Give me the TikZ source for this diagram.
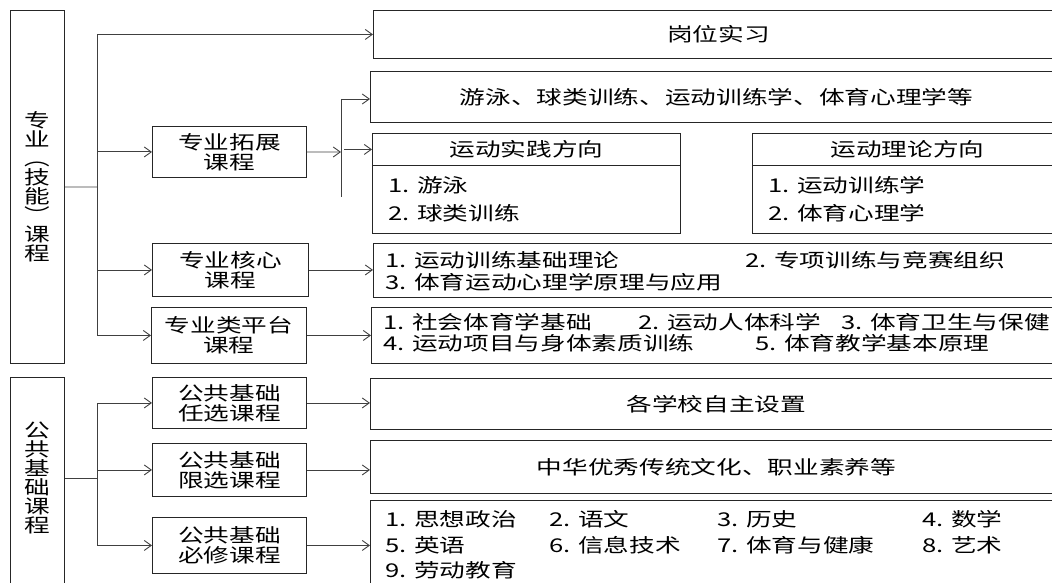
\documentclass[tikz,border=0pt]{standalone}
\usepackage{fontspec}
\setmainfont{Noto Sans CJK SC}[FakeStretch=1.35]
\usetikzlibrary{positioning, arrows.meta}
\tikzset{
  box/.style={draw=black!85, line width=0.9pt, anchor=north west, inner sep=0pt, align=center},
  vlabel/.style={align=center, inner sep=0pt, font=\fontsize{19}{19}\selectfont},
  item/.style={anchor=west, inner sep=0pt},
  link/.style={draw=black!75, line width=0.9pt},
  >={Straight Barb[length=7pt,width=10pt]},
}

\begin{document}
\begin{tikzpicture}[x=1pt, y=-1pt, font=\fontsize{19}{20}\selectfont]
    \useasboundingbox (0,0) rectangle (1052,583);
    \clip (0,0) rectangle (1052,583);
    % side boxes
    \node[box, minimum width=54, minimum height=353] (prof) at (10,10) {};
    \node[vlabel] (proflbl) at (37,187) {专\\业\\︵\\技\\能\\︶\\课\\程};
    \node[box, minimum width=54, minimum height=230] (pub) at (10,377) {};
    \node[vlabel] (publbl) at (37,478) {公\\共\\基\\础\\课\\程};
    % middle column
    \node[box, minimum width=154, minimum height=51] (ext) at (152,126) {专业拓展\\课程};
    \node[box, minimum width=156, minimum height=53] (core) at (152,243) {专业核心\\课程};
    \node[box, minimum width=155, minimum height=56] (plat) at (151,307) {专业类平台\\课程};
    \node[box, minimum width=154, minimum height=51] (pubopt) at (152,377) {公共基础\\任选课程};
    \node[box, minimum width=154, minimum height=53] (publim) at (152,443) {公共基础\\限选课程};
    \node[box, minimum width=154, minimum height=56] (pubreq) at (152,517) {公共基础\\必修课程};
    % right column
    \node[box, minimum width=690, minimum height=48] (job) at (373,10) {岗位实习};
    \node[box, minimum width=692, minimum height=51] (sports) at (370,71) {游泳、球类训练、运动训练学、体育心理学等};
    \node[box, minimum width=308, minimum height=32] (prachd) at (372,133) {运动实践方向};
    \node[box, minimum width=308, minimum height=68] (pracbd) at (372,165) {};
    \node[box, minimum width=310, minimum height=32] (thehd) at (752,133) {运动理论方向};
    \node[box, minimum width=310, minimum height=68] (thebd) at (752,165) {};
    \node[box, minimum width=690, minimum height=54] (corec) at (373,243) {};
    \node[box, minimum width=692, minimum height=56] (platc) at (371,307) {};
    \node[box, minimum width=692, minimum height=51] (optc) at (370,378) {各学校自主设置};
    \node[box, minimum width=692, minimum height=53] (limc) at (370,440) {中华优秀传统文化、职业素养等};
    \node[box, minimum width=692, minimum height=110] (reqc) at (370,500) {};
    % box contents
    \node[item] (p1) at (388,185) {1. 游泳};
    \node[item] (p2) at (388,213) {2. 球类训练};
    \node[item] (t1) at (768,185) {1. 运动训练学};
    \node[item] (t2) at (768,213) {2. 体育心理学};
    \node[item] (c1) at (385,260) {1. 运动训练基础理论};
    \node[item] (c2) at (745,260) {2. 专项训练与竞赛组织};
    \node[item] (c3) at (385,282) {3. 体育运动心理学原理与应用};
    \node[item] (s1) at (383,322) {1. 社会体育学基础};
    \node[item] (s2) at (638,322) {2. 运动人体科学};
    \node[item] (s3) at (841,322) {3. 体育卫生与保健};
    \node[item] (s4) at (383,343) {4. 运动项目与身体素质训练};
    \node[item] (s5) at (755,343) {5. 体育教学基本原理};
    \node[item] (r1) at (385,519) {1. 思想政治};
    \node[item] (r2) at (549,519) {2. 语文};
    \node[item] (r3) at (717,519) {3. 历史};
    \node[item] (r4) at (922,519) {4. 数学};
    \node[item] (r5) at (385,545) {5. 英语};
    \node[item] (r6) at (549,545) {6. 信息技术};
    \node[item] (r7) at (717,545) {7. 体育与健康};
    \node[item] (r8) at (922,545) {8. 艺术};
    \node[item] (r9) at (385,570) {9. 劳动教育};
    % upper tree
    \coordinate (j1) at (97,187);
    \draw[link] (prof.east) -- (j1);
    \draw[link, ->] (j1) |- (job.west);
    \draw[link, ->] (j1) |- (ext.west);
    \draw[link, ->] (j1) |- (core.west);
    \draw[link, ->] (j1) |- (plat.west);
    \coordinate (k) at (341,152);
    \coordinate (ktop) at (341,99);
    \coordinate (kbot) at (341,197);
    \draw[link, ->] (ext.east) -- (k);
    \draw[link] (ktop) -- (kbot);
    \draw[link, ->] (ktop) -- (ktop -| sports.west);
    \draw[link, ->] ([xshift=3pt]prachd.west -| k) -- (prachd.west);
    \draw[link, ->] (core.east) -- (core.east -| corec.west);
    \draw[link, ->] (plat.east) -- (plat.east -| platc.west);
    % lower tree
    \coordinate (j2) at (97,478);
    \draw[link] (publbl -| pub.east) -- (j2);
    \draw[link, ->] (j2) |- (pubopt.west);
    \draw[link, ->] (j2) |- (publim.west);
    \draw[link, ->] (j2) |- (pubreq.west);
    \draw[link, ->] (pubopt.east) -- (pubopt.east -| optc.west);
    \draw[link, ->] (publim.east) -- (publim.east -| limc.west);
    \draw[link, ->] (pubreq.east) -- (pubreq.east -| reqc.west);
\end{tikzpicture}
\end{document}
